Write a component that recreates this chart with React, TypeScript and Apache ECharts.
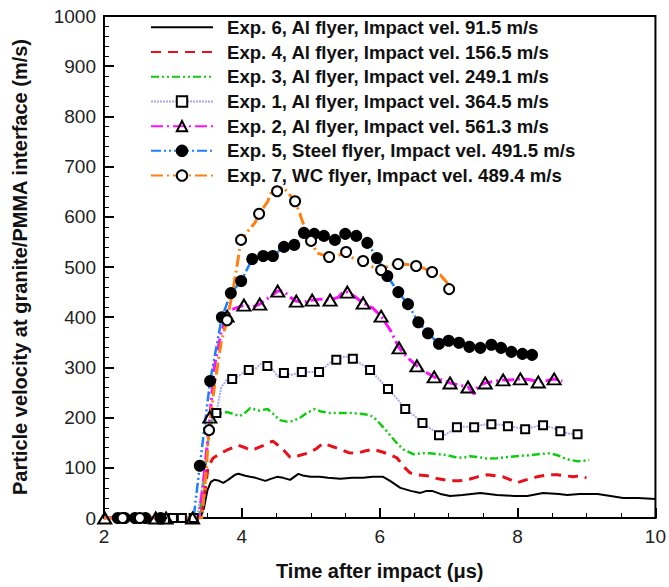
import React, { useEffect, useRef } from "react";
import * as echarts from "echarts";

type P = [number, number];

const xTicks = { min: 2, max: 10, interval: 2 };
const yTicks = { min: 0, max: 1000, interval: 100 };

const names = [
  "Exp. 6, Al flyer, Impact vel. 91.5 m/s",
  "Exp. 4, Al flyer, Impact vel. 156.5 m/s",
  "Exp. 3, Al flyer, Impact vel. 249.1 m/s",
  "Exp. 1, Al flyer, Impact vel. 364.5 m/s",
  "Exp. 2, Al flyer, Impact vel. 561.3 m/s",
  "Exp. 5, Steel flyer, Impact vel. 491.5 m/s",
  "Exp. 7, WC flyer, Impact vel. 489.4 m/s",
];

const exp6Line: P[] = [
  [2, 0], [3.3, 0], [3.4, 0], [3.45, 20], [3.5, 55], [3.55, 72], [3.6, 76], [3.67, 74], [3.73, 70],
  [3.8, 76], [3.9, 86], [3.95, 88], [4.05, 84], [4.12, 82], [4.2, 80], [4.34, 74], [4.42, 78],
  [4.51, 82], [4.6, 80], [4.7, 76], [4.82, 88], [4.9, 84], [5.0, 82], [5.13, 82], [5.25, 80],
  [5.43, 78], [5.6, 80], [5.76, 80], [5.9, 82], [6.05, 82], [6.15, 74], [6.3, 60], [6.45, 54],
  [6.59, 50], [6.68, 54], [6.76, 54], [6.88, 48], [7.02, 44], [7.2, 46], [7.46, 50], [7.7, 46],
  [7.95, 44], [8.14, 44], [8.37, 50], [8.6, 48], [8.72, 46], [8.9, 48], [9.16, 48], [9.35, 44],
  [9.53, 40], [9.75, 40], [10, 38],
];

const exp4Line: P[] = [
  [2, 0], [3.3, 0], [3.4, 0], [3.45, 40], [3.51, 101], [3.58, 119], [3.68, 128], [3.78, 135],
  [3.95, 145], [4.05, 140], [4.12, 135], [4.2, 138], [4.29, 143], [4.38, 150], [4.45, 153],
  [4.58, 139], [4.7, 121], [4.82, 124], [4.95, 129], [5.08, 138], [5.18, 149], [5.3, 143],
  [5.43, 137], [5.55, 130], [5.67, 129], [5.8, 134], [5.9, 137], [6.05, 131], [6.15, 126],
  [6.25, 120], [6.35, 102], [6.44, 90], [6.55, 86], [6.69, 84], [6.85, 78], [7.02, 74],
  [7.15, 74], [7.27, 76], [7.42, 82], [7.56, 86], [7.68, 84], [7.79, 82], [7.9, 76], [7.99, 70],
  [8.12, 76], [8.28, 82], [8.45, 86], [8.57, 86], [8.7, 84], [8.81, 82], [8.9, 84], [9.0, 80],
];

const exp3Line: P[] = [
  [2, 0], [3.3, 0], [3.38, 0], [3.45, 80], [3.52, 165], [3.58, 201], [3.68, 208], [3.79, 211],
  [3.88, 207], [3.97, 203], [4.05, 210], [4.12, 219], [4.25, 214], [4.37, 217], [4.45, 208],
  [4.55, 195], [4.65, 192], [4.74, 193], [4.85, 200], [4.95, 210], [5.06, 217], [5.15, 212],
  [5.28, 209], [5.45, 209], [5.61, 209], [5.75, 207], [5.86, 205], [5.95, 196], [6.05, 181],
  [6.15, 165], [6.25, 149], [6.35, 136], [6.49, 127], [6.6, 129], [6.73, 129], [6.85, 127],
  [6.98, 125], [7.1, 121], [7.21, 120], [7.31, 123], [7.45, 121], [7.56, 118], [7.7, 119],
  [7.89, 122], [8.05, 124], [8.18, 125], [8.3, 127], [8.47, 129], [8.58, 125], [8.66, 120],
  [8.75, 116], [8.87, 113], [9.04, 115],
];

const exp1Line: P[] = [
  [2, 0], [3.35, 0], [3.42, 60], [3.5, 150], [3.58, 200], [3.7, 260], [3.78, 275], [3.95, 282],
  [4.02, 290], [4.2, 298], [4.3, 310], [4.45, 295], [4.52, 282], [4.72, 285], [5.0, 291],
  [5.2, 300], [5.3, 312], [5.5, 322], [5.75, 305], [6.0, 275], [6.25, 238], [6.5, 204],
  [6.75, 177], [6.92, 163], [7.0, 170], [7.25, 182], [7.5, 186], [7.75, 186], [8.0, 180],
  [8.25, 182], [8.5, 180], [8.75, 168],
];
const exp1Marks: P[] = [
  [3.0, 0], [3.13, 0], [3.3, 0], [3.63, 209], [3.86, 277], [4.1, 295], [4.37, 303], [4.61, 289],
  [4.87, 291], [5.12, 291], [5.37, 315], [5.61, 317], [5.86, 295], [6.12, 257], [6.37, 217],
  [6.62, 189], [6.86, 165], [7.12, 181], [7.37, 181], [7.62, 187], [7.86, 183], [8.11, 177],
  [8.37, 185], [8.62, 173], [8.87, 167],
];

const exp2Line: P[] = [
  [2, 0], [3.38, 0], [3.45, 80], [3.6, 300], [3.7, 370], [3.85, 415], [4.15, 420], [4.4, 440],
  [4.6, 452], [4.7, 440], [4.9, 430], [5.15, 436], [5.4, 440], [5.45, 448], [5.65, 440],
  [5.9, 418], [6.15, 375], [6.4, 320], [6.65, 292], [6.9, 275], [7.15, 265], [7.37, 247],
  [7.42, 262], [7.65, 272], [7.9, 275], [8.17, 276], [8.4, 273], [8.65, 273],
];
const exp2Marks: P[] = [
  [2.01, 0], [2.75, 0], [2.9, 0], [3.285, 0], [3.535, 201],
  [3.785, 402], [4.03, 424], [4.26, 426], [4.52, 452], [4.79, 432], [5.02, 434], [5.28, 434],
  [5.53, 450], [5.76, 428], [6.02, 402], [6.28, 339], [6.54, 303], [6.79, 281], [7.02, 269],
  [7.28, 261], [7.53, 269], [7.79, 275], [8.04, 277], [8.3, 271], [8.53, 277],
];

const exp5Line: P[] = [[2, 0], [3.3, 0]];
const exp5Marks: P[] = [
  [2.2, 0], [2.3, 0], [2.45, 0], [2.6, 0], [2.82, 0],
  [3.39, 104], [3.54, 273], [3.71, 400], [3.84, 448], [3.99, 472], [4.15, 516], [4.31, 522],
  [4.45, 522], [4.61, 540], [4.76, 544], [4.9, 568], [5.05, 566], [5.19, 562], [5.35, 554],
  [5.5, 566], [5.66, 562], [5.82, 548], [5.96, 518], [6.11, 482], [6.27, 450], [6.41, 426],
  [6.56, 390], [6.7, 368], [6.86, 347], [7.0, 353], [7.15, 349], [7.3, 341], [7.46, 339],
  [7.62, 345], [7.76, 339], [7.91, 331], [8.07, 327], [8.21, 325],
];

const exp7Line: P[] = [
  [2, 0], [3.42, 0], [3.48, 90], [3.6, 260], [3.7, 350], [3.88, 460], [3.95, 520], [4.08, 570],
  [4.19, 588], [4.37, 629], [4.45, 657], [4.6, 659], [4.84, 607], [4.92, 574], [5.09, 528],
  [5.38, 522], [5.61, 518], [5.9, 500], [6.15, 504], [6.4, 505], [6.63, 498], [6.88, 484],
  [6.98, 468],
];
const exp7Marks: P[] = [
  [2.27, 0], [2.52, 0], [3.524, 175], [3.785, 394],
  [3.988, 554], [4.25, 606], [4.511, 651], [4.772, 631], [5.004, 552], [5.266, 520],
  [5.512, 530], [5.759, 512], [6.02, 494], [6.267, 506], [6.528, 502], [6.76, 490], [7.007, 456],
];

function build(line: P[], marks: P[]) {
  const pts = [
    ...line.map((p) => ({ p, m: false })),
    ...marks.map((p) => ({ p, m: true })),
  ].sort((a, b) => a.p[0] - b.p[0]);
  return pts.map((o) => (o.m ? { value: o.p } : { value: o.p, symbol: "none" }));
}

const FONT = "'Liberation Sans', Arial, sans-serif";

export default function App() {
  const ref = useRef<HTMLDivElement>(null);
  useEffect(() => {
    if (!ref.current) return;
    const chart = echarts.init(ref.current, undefined, { renderer: "svg" });
    const mk = (
      i: number,
      data: any[],
      color: string,
      width: number,
      dash: any,
      symbol: string,
      symbolSize: any,
      fill: string
    ) => ({
      name: names[i],
      type: "line",
      data,
      showAllSymbol: true,
      symbol,
      symbolSize,
      lineStyle: { color, width, type: dash },
      itemStyle: { color: fill, borderColor: "#000", borderWidth: 2 },
      emphasis: { disabled: true },
    });
    const legendData = names.map((n, i) =>
      i < 3 ? { name: n, itemStyle: { opacity: 0 } } : { name: n }
    );
    chart.setOption({
      animation: false,
      grid: {
        left: 104,
        right: 13,
        top: 16,
        bottom: 69,
        show: true,
        borderColor: "#000",
        borderWidth: 2,
      },
      legend: {
        orient: "vertical",
        left: 145,
        top: 11,
        itemWidth: 62,
        itemHeight: 13,
        itemGap: 2,
        selectedMode: false,
        textStyle: {
          fontFamily: FONT,
          fontWeight: "bold",
          fontSize: 18.6,
          lineHeight: 22.7,
          color: "#111",
          padding: [0, 0, 0, 9],
        },
        data: legendData,
      },
      xAxis: {
        type: "value",
        min: xTicks.min,
        max: xTicks.max,
        interval: xTicks.interval,
        name: "Time after impact (μs)",
        nameLocation: "middle",
        nameGap: 43,
        nameTextStyle: { fontFamily: FONT, fontWeight: "bold", fontSize: 20, color: "#111" },
        axisLine: { lineStyle: { color: "#000", width: 2 } },
        axisTick: { inside: true, length: 10, lineStyle: { color: "#000", width: 2 } },
        minorTick: { show: true, splitNumber: 4, length: 5, lineStyle: { color: "#000", width: 1 } },
        splitLine: { show: false },
        axisLabel: { fontFamily: FONT, fontSize: 19, color: "#222", margin: 9 },
      },
      yAxis: {
        type: "value",
        min: yTicks.min,
        max: yTicks.max,
        interval: yTicks.interval,
        name: "Particle velocity at granite/PMMA interface (m/s)",
        nameLocation: "middle",
        nameGap: 74,
        nameTextStyle: { fontFamily: FONT, fontWeight: "bold", fontSize: 20, color: "#111" },
        axisLine: { lineStyle: { color: "#000", width: 2 } },
        axisTick: { inside: true, length: 10, lineStyle: { color: "#000", width: 2 } },
        minorTick: { show: true, splitNumber: 5, length: 5, lineStyle: { color: "#000", width: 1 } },
        splitLine: { show: false },
        axisLabel: {
          fontFamily: FONT,
          fontSize: 19,
          color: "#222",
          margin: 8,
          formatter: (v: number) => String(v),
        },
      },
      series: [
        mk(0, build(exp6Line, []), "#000000", 2, "solid", "none", 0, "#000"),
        mk(1, build(exp4Line, []), "#e8101a", 3, [10, 7], "none", 0, "#e8101a"),
        mk(2, build(exp3Line, []), "#10cc10", 2.5, [8, 3, 2, 3, 2, 3], "none", 0, "#10cc10"),
        mk(3, build(exp1Line, exp1Marks), "#a8a8f4", 2, [2, 1], "rect", 8, "#ffffff"),
        mk(4, build(exp2Line, exp2Marks), "#ff10ff", 3, [12, 4, 2, 4], "triangle", [13, 11], "rgba(255,255,255,0)"),
        mk(5, build(exp5Line, exp5Marks), "#1a80ff", 2.5, [10, 3, 2, 3, 2, 3], "circle", 10, "#000000"),
        mk(6, build(exp7Line, exp7Marks), "#ff8010", 3, [12, 4, 2, 4], "circle", 10, "#ffffff"),
      ],
    });
    return () => chart.dispose();
  }, []);
  return (
    <div
      ref={ref}
      style={{ position: "fixed", left: 0, top: 0, width: 669, height: 587, background: "#fff" }}
    />
  );
}
